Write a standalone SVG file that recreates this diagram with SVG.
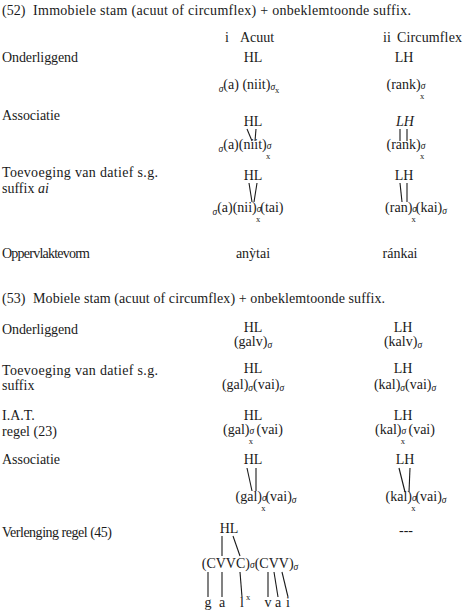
<svg xmlns="http://www.w3.org/2000/svg" width="470" height="613" viewBox="0 0 470 613">
<style>
text{font-family:"Liberation Serif","Times New Roman",serif;font-size:14px;fill:#1a1a1a}
.m{text-anchor:middle}
.s{font-size:9.5px;font-style:italic}
.x{font-size:8.5px}
.i{font-style:italic}
#connectors line{stroke:#1a1a1a;stroke-width:1.1;fill:none}
</style>
<rect width="470" height="613" fill="#fff"/>
<g id="title52"><text x="2" y="15">(52)</text><text x="33" y="15" textLength="378" lengthAdjust="spacing">Immobiele stam (acuut of circumflex) + onbeklemtoonde suffix.</text></g>
<g id="heads"><text x="225" y="42">i</text><text x="240" y="42">Acuut</text><text x="383" y="42">ii</text><text x="397" y="42" textLength="65" lengthAdjust="spacing">Circumflex</text></g>
<g id="r52-onder">
<text x="2" y="62" textLength="76" lengthAdjust="spacing">Onderliggend</text>
<text class="m" x="253" y="62">HL</text><text class="m" x="404" y="62">LH</text>
<text class="m" x="249" y="89"><tspan class="s" dy="3">σ</tspan><tspan dy="-3">(a) (niit)</tspan><tspan class="s" dy="1">σ</tspan><tspan class="x" dy="3">x</tspan></text>
<text class="m" x="406" y="89">(rank)<tspan class="s">σ</tspan><tspan class="x" dx="-5.5" dy="10">x</tspan></text>
</g>
<g id="r52-assoc">
<text x="2" y="120" textLength="58" lengthAdjust="spacing">Associatie</text>
<text class="m" x="253" y="126">HL</text><text class="m i" x="405" y="126">LH</text>
<text class="m" x="245" y="149"><tspan class="s" dy="3">σ</tspan><tspan dy="-3">(a)(niit)</tspan><tspan class="s">σ</tspan><tspan class="x" dx="-5.5" dy="10">x</tspan></text>
<text class="m" x="406" y="149">(rank)<tspan class="s">σ</tspan><tspan class="x" dx="-5.5" dy="10">x</tspan></text>
</g>
<g id="r52-toev">
<text x="2" y="177" textLength="156" lengthAdjust="spacing">Toevoeging van datief s.g.</text>
<text x="2" y="193">suffix <tspan class="i">ai</tspan></text>
<text class="m" x="253" y="180">HL</text><text class="m" x="404" y="180">LH</text>
<text class="m" x="248" y="212"><tspan class="s" dy="3">σ</tspan><tspan dy="-3">(a)(nii)</tspan><tspan class="s">σ</tspan><tspan class="x" dx="-5.5" dy="10">x</tspan><tspan dy="-10">(tai)</tspan></text>
<text class="m" x="416" y="212">(ran)<tspan class="s">σ</tspan><tspan class="x" dx="-5.5" dy="10">x</tspan><tspan dy="-10">(kai)</tspan><tspan class="s" dy="2">σ</tspan></text>
</g>
<g id="r52-opp">
<text x="2" y="258" textLength="88" lengthAdjust="spacing">Oppervlaktevorm</text>
<text class="m" x="253" y="258">anỳtai</text><text class="m" x="400" y="258">ránkai</text>
</g>
<g id="title53"><text x="2" y="303">(53)</text><text x="33" y="303" textLength="352" lengthAdjust="spacing">Mobiele stam (acuut of circumflex) + onbeklemtoonde suffix.</text></g>
<g id="r53-onder">
<text x="2" y="334" textLength="76" lengthAdjust="spacing">Onderliggend</text>
<text class="m" x="253" y="332">HL</text><text class="m" x="403" y="332">LH</text>
<text class="m" x="253" y="346">(galv)<tspan class="s" dy="2">σ</tspan></text>
<text class="m" x="403" y="346">(kalv)<tspan class="s" dy="2">σ</tspan></text>
</g>
<g id="r53-toev">
<text x="2" y="375" textLength="156" lengthAdjust="spacing">Toevoeging van datief s.g.</text>
<text x="2" y="390">suffix</text>
<text class="m" x="253" y="373">HL</text><text class="m" x="403" y="373">LH</text>
<text class="m" x="253" y="389">(gal)<tspan class="s" dy="2">σ</tspan><tspan dy="-2">(vai)</tspan><tspan class="s" dy="2">σ</tspan></text>
<text class="m" x="405" y="389">(kal)<tspan class="s" dy="2">σ</tspan><tspan dy="-2">(vai)</tspan><tspan class="s" dy="2">σ</tspan></text>
</g>
<g id="r53-iat">
<text x="2" y="420">I.A.T.</text>
<text x="2" y="436">regel (23)</text>
<text class="m" x="253" y="420">HL</text><text class="m" x="403" y="420">LH</text>
<text class="m" x="253" y="434">(gal)<tspan class="s">σ</tspan><tspan class="x" dx="-5.5" dy="10">x</tspan><tspan dy="-10"> (vai)</tspan></text>
<text class="m" x="405" y="434">(kal)<tspan class="s">σ</tspan><tspan class="x" dx="-5.5" dy="10">x</tspan><tspan dy="-10"> (vai)</tspan></text>
</g>
<g id="r53-assoc">
<text x="2" y="464" textLength="58" lengthAdjust="spacing">Associatie</text>
<text class="m" x="253" y="464">HL</text><text class="m" x="405" y="464">LH</text>
<text class="m" x="266" y="501">(gal)<tspan class="s">σ</tspan><tspan class="x" dx="-5.5" dy="10">x</tspan><tspan dy="-10">(vai)</tspan><tspan class="s" dy="2">σ</tspan></text>
<text class="m" x="416" y="501">(kal)<tspan class="s">σ</tspan><tspan class="x" dx="-5.5" dy="10">x</tspan><tspan dy="-10">(vai)</tspan><tspan class="s" dy="2">σ</tspan></text>
</g>
<g id="r53-verl">
<text x="2" y="537" textLength="110" lengthAdjust="spacing">Verlenging regel (45)</text>
<text class="m" x="229" y="533">HL</text>
<text class="m" x="406" y="535">---</text>
<text class="m" x="250" y="568">(CVVC)<tspan class="s">σ</tspan>(CVV)<tspan class="s" dy="2">σ</tspan></text>
<text class="m" x="208" y="607">g</text><text class="m" x="222" y="607">a</text><text class="m" x="242" y="607">l</text><text class="x" x="246" y="600">x</text>
<text class="m" x="268" y="607">v</text><text class="m" x="278" y="607">a</text><text class="m" x="288" y="607">i</text>
</g>
<g id="connectors">
<line x1="247" y1="129" x2="252" y2="141"/><line x1="256" y1="129" x2="255" y2="141"/>
<line x1="400" y1="129" x2="400" y2="141"/><line x1="407" y1="129" x2="407" y2="141"/>
<line x1="249" y1="183" x2="252" y2="202"/><line x1="257" y1="183" x2="254" y2="202"/>
<line x1="400" y1="183" x2="402" y2="202"/><line x1="407" y1="183" x2="407" y2="202"/>
<line x1="247" y1="468" x2="252" y2="491"/><line x1="256" y1="468" x2="256" y2="491"/>
<line x1="399" y1="468" x2="405" y2="492"/><line x1="410" y1="468" x2="409" y2="492"/>
<line x1="222" y1="536" x2="222" y2="556"/><line x1="233" y1="536" x2="240" y2="556"/>
<line x1="208" y1="572" x2="208" y2="597"/><line x1="222" y1="572" x2="222" y2="597"/>
<line x1="240" y1="572" x2="242" y2="597"/><line x1="268" y1="572" x2="268" y2="597"/>
<line x1="274" y1="572" x2="278" y2="597"/><line x1="282" y1="572" x2="288" y2="597"/>
</g>
</svg>
